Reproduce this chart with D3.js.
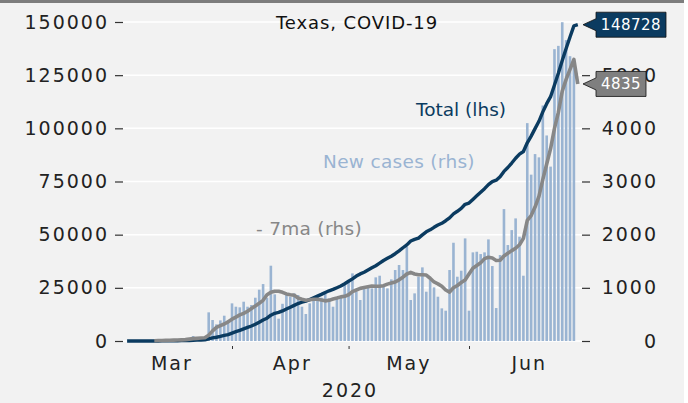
<!DOCTYPE html>
<html>
<head>
<meta charset="utf-8">
<script src="https://cdn.jsdelivr.net/npm/d3@7"></script>
<style>
  body { margin: 0; background: #fff; }
  svg text { font-family: "DejaVu Sans", sans-serif; }
</style>
</head>
<body>
<div class="chart"></div>
<script>
// daily series, one value per day starting on startDay
var startDay = "2020-03-05";

var newCases = [
    // Mar 5 - Mar 31
    1, 2, 2, 3, 3, 1, 3, 6, 6, 12, 18, 15, 13, 30, 45, 50, 55, 94, 42, 50, 60, 539, 395, 313, 388, 476, 388,
    // Apr
    708, 645, 633, 739, 645, 677, 814, 965, 1071, 814, 1416, 877, 420, 700, 877, 833, 896, 865, 645, 508,
    708, 802, 833, 815, 896, 802, 645, 802, 815, 1060,
    // May
    1147, 1272, 927, 771, 990, 1021, 990, 1197, 1228, 1034, 990, 1159, 1335, 1429, 1335, 1773, 771, 896, 1209, 1385,
    927, 1147, 1009, 833, 614, 570, 1335, 1848, 1209, 1322, 1930,
    // Jun
    570, 1667, 1679, 1635, 1667, 1911, 1410, 620, 1617, 2481, 1805, 2086, 2306, 1961, 1228, 4098, 3129, 3516, 3454, 4430,
    3866, 3280, 5489, 5551, 5996, 5660, 5357, 5270, null
];

var totalCases = [
    1, 3, 5, 8, 11, 12, 15, 21, 27, 39, 57, 72, 85, 115, 160, 210, 265, 359, 401, 451, 511, 1050, 1445, 1758, 2146, 2622, 3010,
    3718, 4363, 4996, 5735, 6380, 7057, 7871, 8836, 9907, 10721, 12137, 13014, 13434, 14134, 15011, 15844, 16740, 17605, 18250, 18758,
    19466, 20268, 21101, 21916, 22812, 23614, 24259, 25061, 25876, 26936,
    28087, 29229, 30522, 31548, 32332, 33369, 34422, 35390, 36609, 37860, 38869, 39869, 41048, 42403, 43851, 45198, 46999, 47784,
    48396, 49912, 51323, 52268, 53449, 54509, 55348, 56560, 57921, 59776, 61006, 62338, 64287,
    64880, 66568, 68271, 69920, 71613, 73550, 74978, 75616, 77253, 79757, 81583, 83680, 85940, 87854, 89108, 93206, 96335, 99851,
    103305, 107735, 111601, 114881, 120370, 125921, 131917, 137577, 142934, 148204, 148728
];

var avg7 = [
    null, null, null, null, null, null, null,
    6, 8, 10, 12, 14, 16, 18, 22, 26, 35, 45, 50, 55, 60, 110, 190, 255, 290, 320, 360,
    410, 450, 490, 520, 560, 610, 660, 710, 765, 870, 915, 935, 935, 915, 885, 870, 860, 810, 785, 768,
    775, 784, 784, 770, 755, 765, 790, 808, 830, 840,
    870, 930, 960, 990, 1005, 1020, 1034, 1030, 1030, 1040, 1070, 1090, 1110, 1150, 1200, 1260, 1290, 1260, 1245, 1245,
    1240, 1180, 1110, 1075, 1030, 960, 920, 1000, 1045, 1100, 1147,
    1260, 1370, 1420, 1470, 1550, 1575, 1560, 1515, 1520, 1600, 1650, 1700, 1745, 1810, 1930, 2270, 2360, 2520, 2720, 3040,
    3330, 3620, 4000, 4300, 4700, 4920, 5110, 5295, 4835
];

var leftTicks = [0, 25000, 50000, 75000, 100000, 125000, 150000];
var rightTicks = [0, 1000, 2000, 3000, 4000, 5000];
var monthStarts = ["2020-04-01", "2020-05-01", "2020-06-01"];
var monthNames = ["Mar", "Apr", "May", "Jun"];
var monthMids = ["2020-03-16", "2020-04-16", "2020-05-16", "2020-06-16"];
var yearLabel = "2020";
var titleText = "Texas, COVID-19";
var lastTotalLabel = "148728";
var lastAvgLabel = "4835";

var W = 688, H = 403;
var navy = "#0b3b60", barBlue = "#9ab4d2", grey = "#878787";

var parse = d3.utcParse("%Y-%m-%d");
var day0 = parse(startDay);
var rows = newCases.map(function (v, i) {
    return { date: d3.utcDay.offset(day0, i), cases: v, total: totalCases[i], ma: avg7[i] };
});

// scales
var x = d3.scaleUtc()
    .domain([Date.UTC(2020, 2, 4, 6), Date.UTC(2020, 5, 29, 18)])
    .range([124.2, 580.7]);
var yL = d3.scaleLinear().domain([0, 150000]).range([341, 22]);
var yR = d3.scaleLinear().domain([0, 6000]).range([341, 22]);

var svg = d3.select(".chart").append("svg")
    .attr("width", W).attr("height", H);

// background + top border
svg.append("rect").attr("width", 684).attr("height", H).attr("fill", "#f2f2f2");
svg.append("rect").attr("width", 684).attr("height", 3).attr("fill", "#7d7d7d");

// gridlines
svg.append("g").selectAll("line")
    .data(leftTicks)
    .join("line")
    .attr("x1", 123).attr("x2", 582)
    .attr("y1", function (d) { return yL(d) })
    .attr("y2", function (d) { return yL(d) })
    .attr("stroke", "#fff")
    .attr("stroke-width", 1.5);

// left axis
var axL = svg.append("g")
    .attr("transform", "translate(123,0)")
    .call(d3.axisLeft(yL).tickValues(leftTicks).tickSize(8).tickPadding(6).tickFormat(d3.format("d")));
axL.select(".domain").remove();
axL.attr("font-family", null).attr("font-size", 19);
axL.selectAll("line").attr("stroke", "#333").attr("stroke-width", 1.2);
axL.selectAll("text").attr("fill", "#222").attr("letter-spacing", 2);

// right axis
var axR = svg.append("g")
    .attr("transform", "translate(582,0)")
    .call(d3.axisRight(yR).tickValues(rightTicks).tickSize(8).tickFormat(d3.format("d")));
axR.select(".domain").remove();
axR.attr("font-family", null).attr("font-size", 19);
axR.selectAll("line").attr("stroke", "#333").attr("stroke-width", 1.2);
axR.selectAll("text").attr("fill", "#222").attr("letter-spacing", 2)
    .attr("text-anchor", "end").attr("x", 76);

// month ticks
var axB = svg.append("g")
    .attr("transform", "translate(0,346)")
    .call(d3.axisBottom(x).tickValues(monthStarts.map(parse)).tickSize(3).tickFormat(""));
axB.select(".domain").remove();
axB.selectAll("line").attr("stroke", "#333");

svg.append("g").selectAll("text")
    .data(monthNames)
    .join("text")
    .attr("x", function (d, i) { return x(parse(monthMids[i])) + 2 })
    .attr("y", 370)
    .attr("text-anchor", "middle")
    .attr("font-size", 19)
    .attr("letter-spacing", 2)
    .attr("fill", "#222")
    .text(function (d) { return d });

svg.append("text")
    .attr("x", 350).attr("y", 397)
    .attr("text-anchor", "middle")
    .attr("font-size", 19)
    .attr("letter-spacing", 2)
    .attr("fill", "#222")
    .text(yearLabel);

// bars: new cases (rhs)
svg.append("g").selectAll("rect")
    .data(rows.filter(function (d) { return d.cases != null }))
    .join("rect")
    .attr("x", function (d) { return x(d.date) - 1.3 })
    .attr("width", 2.6)
    .attr("y", function (d) { return yR(d.cases) })
    .attr("height", function (d) { return yR(0) - yR(d.cases) })
    .attr("fill", barBlue);

// total line (lhs)
var lineTotal = d3.line()
    .x(function (d) { return x(d.date) })
    .y(function (d) { return yL(d.total) });
svg.append("path")
    .datum(rows)
    .attr("d", lineTotal)
    .attr("fill", "none")
    .attr("stroke", navy)
    .attr("stroke-width", 3.4)
    .attr("stroke-linejoin", "round");

// 7-day average (rhs)
var lineAvg = d3.line()
    .defined(function (d) { return d.ma != null })
    .x(function (d) { return x(d.date) })
    .y(function (d) { return yR(d.ma) });
svg.append("path")
    .datum(rows)
    .attr("d", lineAvg)
    .attr("fill", "none")
    .attr("stroke", grey)
    .attr("stroke-width", 3.6)
    .attr("stroke-linejoin", "round");

// series labels
svg.append("text").attr("x", 357).attr("y", 29).attr("text-anchor", "middle")
    .attr("font-size", 18).attr("letter-spacing", 0.9).attr("fill", "#111").text(titleText);
svg.append("text").attr("x", 416).attr("y", 116)
    .attr("font-size", 18.5).attr("fill", navy).text("Total (lhs)");
svg.append("text").attr("x", 323).attr("y", 168)
    .attr("font-size", 18.5).attr("letter-spacing", 0.3).attr("fill", barBlue).text("New cases (rhs)");
svg.append("text").attr("x", 256).attr("y", 235)
    .attr("font-size", 18.5).attr("letter-spacing", 0.3).attr("fill", grey).text("- 7ma (rhs)");

// end-value callouts
function callout(yPos, label, fill, boxW) {
    var x0 = 583, bx = 596;
    var g = svg.append("g");
    g.append("path")
        .attr("d", "M" + x0 + "," + yPos + "L" + bx + "," + (yPos - 6) + "L" + bx + "," + (yPos - 12.5) +
            "L" + (bx + boxW) + "," + (yPos - 12.5) + "L" + (bx + boxW) + "," + (yPos + 12.5) +
            "L" + bx + "," + (yPos + 12.5) + "L" + bx + "," + (yPos + 6) + "Z")
        .attr("fill", fill)
        .attr("stroke", "#111")
        .attr("stroke-width", 0.8);
    g.append("text")
        .attr("x", bx + boxW / 2).attr("y", yPos + 5.5)
        .attr("text-anchor", "middle")
        .attr("font-size", 15)
        .attr("letter-spacing", 0.5)
        .attr("fill", "#fff")
        .text(label);
}
var last = rows[rows.length - 1];
callout(yL(last.total), lastTotalLabel, navy, 70);
callout(yR(last.ma), lastAvgLabel, "#7f7f7f", 50);
</script>
</body>
</html>
